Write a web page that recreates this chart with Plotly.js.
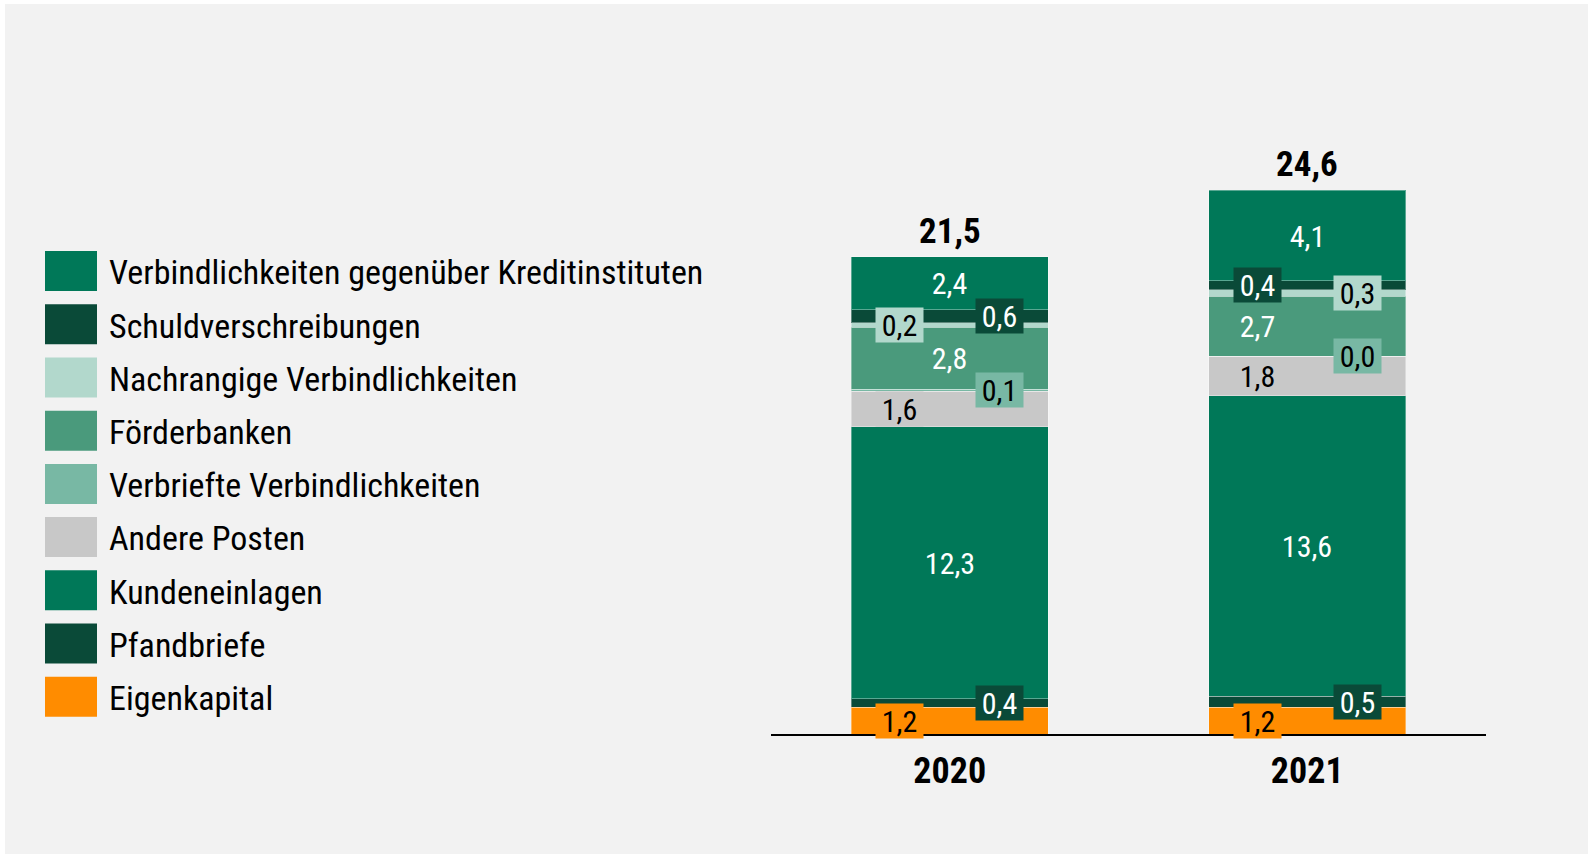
<!DOCTYPE html>
<html>
<head>
<meta charset="utf-8">
<script src="https://cdn.plot.ly/plotly-3.0.1.min.js"></script>
<style>
  html, body { margin: 0; padding: 0; background: #ffffff; }
  #chart { position: absolute; left: 5px; top: 4px; width: 1583px; height: 850px; }
</style>
</head>
<body>
<div id="chart"></div>
<script>
// ---- data (bottom-up stacking order) ----
const years = ['2020', '2021'];
const seriesNames = [
  'Eigenkapital',
  'Pfandbriefe',
  'Kundeneinlagen',
  'Andere Posten',
  'Verbriefte Verbindlichkeiten',
  'Förderbanken',
  'Nachrangige Verbindlichkeiten',
  'Schuldverschreibungen',
  'Verbindlichkeiten gegenüber Kreditinstituten'
];
const eigenkapital = [1.2, 1.2];
const pfandbriefe = [0.4, 0.5];
const kundeneinlagen = [12.3, 13.6];
const anderePosten = [1.6, 1.8];
const verbriefteVerbindlichkeiten = [0.1, 0.0];
const foerderbanken = [2.8, 2.7];
const nachrangigeVerbindlichkeiten = [0.2, 0.3];
const schuldverschreibungen = [0.6, 0.4];
const verbindlichkeitenKI = [2.4, 4.1];
const totals = [21.5, 24.6];

const seriesValues = [
  eigenkapital, pfandbriefe, kundeneinlagen, anderePosten,
  verbriefteVerbindlichkeiten, foerderbanken, nachrangigeVerbindlichkeiten,
  schuldverschreibungen, verbindlichkeitenKI
];

// ---- styles ----
const colors = ['#ff8c00', '#0a4a38', '#007858', '#c8c8c8', '#78b8a4', '#4a9a7c', '#b2d8cc', '#0a4a38', '#007858'];
const labelColors = ['#000000', '#ffffff', '#ffffff', '#000000', '#000000', '#ffffff', '#000000', '#ffffff', '#ffffff'];
// label placement per year: -1 left, 0 centre, 1 right
const labelSide = [
  [-1, 1, 0, -1, 1, 0, -1, 1, 0],
  [-1, 1, 0, -1, 1, -1, 1, -1, 0]
];
const FONT = '"Roboto Condensed", Roboto, sans-serif';
const fmt = v => v.toFixed(1).replace('.', ',');

const traces = seriesNames.map((name, i) => ({
  type: 'bar',
  name: name,
  x: years,
  y: seriesValues[i],
  marker: { color: colors[i], line: { color: 'rgba(255,255,255,0.35)', width: 1 } },
  width: 0.55,
  legendgroup: 'g' + i,
  legendrank: 100 - i,
  hoverinfo: 'skip'
}));

const annotations = [];
years.forEach((yr, j) => {
  let cum = 0;
  seriesValues.forEach((vals, i) => {
    const v = vals[j];
    const mid = cum + v / 2;
    cum += v;
    const txt = fmt(v);
    annotations.push({
      xref: 'x', yref: 'y', x: j, y: mid,
      xshift: labelSide[j][i] * 50,
      text: txt, showarrow: false,
      font: { family: FONT, size: 30, color: labelColors[i] },
      bgcolor: colors[i], borderpad: 0,
      width: txt.length > 3 ? 62 : 47, height: 34,
      xanchor: 'center', yanchor: 'middle'
    });
  });
  annotations.push({
    xref: 'x', yref: 'y', x: j, y: cum,
    text: fmt(totals[j]), showarrow: false,
    font: { family: FONT, size: 35, color: '#000000', weight: 'bold' },
    xanchor: 'center', yanchor: 'bottom', yshift: 3
  });
});

const layout = {
  width: 1583, height: 850,
  paper_bgcolor: '#f2f2f2', plot_bgcolor: 'rgba(0,0,0,0)',
  margin: { l: 766, r: 102, t: 67, b: 120, autoexpand: false },
  barmode: 'stack',
  bargap: 0,
  font: { family: FONT, color: '#000000' },
  xaxis: {
    type: 'category', range: [-0.5, 1.5],
    showline: true, linecolor: '#000000', linewidth: 2,
    showgrid: false, zeroline: false, ticks: '', ticklabelstandoff: 4,
    tickfont: { family: FONT, size: 36, color: '#000000', weight: 'bold' },
    fixedrange: true
  },
  yaxis: { visible: false, range: [0, 30], showgrid: false, zeroline: false, fixedrange: true },
  showlegend: true,
  legend: {
    xref: 'container', yref: 'container',
    x: 28 / 1583, y: 1 - 238.5 / 850, xanchor: 'left', yanchor: 'top',
    traceorder: 'grouped', tracegroupgap: 6, maxheight: 700,
    itemwidth: 66, itemclick: false, itemdoubleclick: false,
    font: { family: FONT, size: 34, color: '#000000' },
    bgcolor: 'rgba(0,0,0,0)', borderwidth: 0
  },
  annotations: annotations
};

Plotly.newPlot('chart', traces, layout, { staticPlot: true, displayModeBar: false }).then(() => {
  document.querySelectorAll('#chart .legendpoints path').forEach(p => {
    p.setAttribute('d', 'M26,20H-26V-20H26Z');
    p.style.strokeWidth = '0px';
  });
});
</script>
</body>
</html>
